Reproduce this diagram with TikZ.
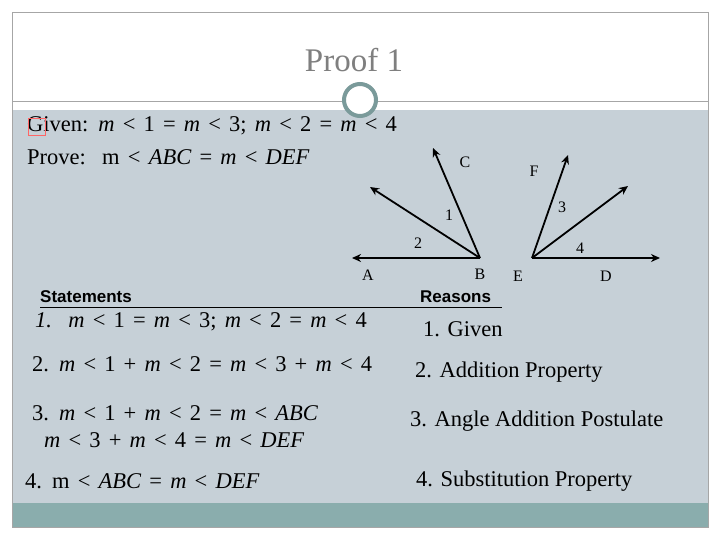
\documentclass[tikz,border=0pt]{standalone}
\usepackage{fontspec}
\setmainfont{Liberation Serif}
\newfontfamily\hsans{Liberation Sans}
\newfontfamily\mathy[WordSpace=1.45]{Liberation Serif}
\usetikzlibrary{arrows.meta}
\definecolor{bodyg}{HTML}{C6D0D7}
\definecolor{barg}{HTML}{8AADAD}
\definecolor{ringc}{HTML}{7A9A9A}
\definecolor{titlec}{HTML}{7F7F7F}
\newcommand{\vm}{\textit{m}}
\newcommand{\vi}[1]{\textit{#1}}
\tikzset{ray/.style={line width=1.8pt,-{Stealth[length=9pt,width=8pt]}},
 lbl/.style={font=\fontsize{16}{16}\selectfont},
 txt/.style={font=\fontsize{22.5}{24}\selectfont,anchor=west,inner sep=0},
 mtxt/.style={font=\mathy\fontsize{22.5}{24}\selectfont,anchor=west,inner sep=0},
 hdr/.style={font=\hsans\bfseries\fontsize{17}{18}\selectfont,anchor=west,inner sep=0}}
\begin{document}
\begin{tikzpicture}[x=1pt,y=-1pt]
\useasboundingbox (0,0) rectangle (720,540);
\fill[white] (0,0) rectangle (720,540);
\fill[bodyg] (12,110) rectangle (708,503);
\fill[barg] (12,503) rectangle (708,527);
\draw[gray!70] (12,12) rectangle (708,527);
\draw[gray!70] (12,101) -- (708,101);
\node[font=\fontsize{33}{33}\selectfont,text=titlec] (title) at (354,60) {Proof 1};
\draw[ringc,line width=4pt,fill=white] (360,100) circle (16);
\node[mtxt] (given) at (27,126) {Given: \vm{} < 1 = \vm{} < 3; \vm{} < 2 = \vm{} < 4};
\draw[red!60,line width=1pt] (28,119) rectangle (45,136);
\node[mtxt] (prove) at (27,157) {Prove:\ \ m < \vi{ABC} = \vm{} < \vi{DEF}};
% diagram
\coordinate (B) at (480,258); \coordinate (E) at (532,258);
\coordinate (tA) at (352,258); \coordinate (t2) at (370,187); \coordinate (tC) at (433,148);
\coordinate (tD) at (660,258); \coordinate (tF) at (568,155); \coordinate (t4) at (628,186);
\draw[ray] (B) -- (tA); \draw[ray] (B) -- (t2); \draw[ray] (B) -- (tC);
\draw[ray] (E) -- (tD); \draw[ray] (E) -- (tF); \draw[ray] (E) -- (t4);
\node[lbl] (lC) at (465,162) {C}; \node[lbl] (lF) at (534,171) {F};
\node[lbl] (l1) at (449,215) {1}; \node[lbl] (l2) at (418,243) {2};
\node[lbl] (l3) at (562,207) {3}; \node[lbl] (l4) at (580,248) {4};
\node[lbl] (lA) at (368,275) {A}; \node[lbl] (lB) at (480,274) {B};
\node[lbl] (lE) at (518,276) {E}; \node[lbl] (lD) at (606,276) {D};
% table
\node[hdr] (st) at (40,297) {Statements};
\node[hdr] (re) at (420,297) {Reasons};
\draw[line width=1pt] (40,307) -- (502,307);
\node[mtxt] (s1) at (35,322) {\textit{1.}\ \ \vm{} < 1 = \vm{} < 3; \vm{} < 2 = \vm{} < 4};
\node[mtxt] (s2) at (32,364) {2. \vm{} < 1 + \vm{} < 2 = \vm{} < 3 + \vm{} < 4};
\node[mtxt] (s3) at (32,413) {3. \vm{} < 1 + \vm{} < 2 = \vm{} < \vi{ABC}};
\node[mtxt] (s3b) at (44,440) {\vm{} < 3 + \vm{} < 4 = \vm{} < \vi{DEF}};
\node[mtxt] (s4) at (25,481) {4. m < \vi{ABC} = \vm{} < \vi{DEF}};
\node[txt] (r1) at (423,329) {1. Given};
\node[txt] (r2) at (415,372) {2. Addition Property};
\node[txt] (r3) at (410,421) {3. Angle Addition Postulate};
\node[txt] (r4) at (416,481) {4. Substitution Property};
\end{tikzpicture}
\end{document}
